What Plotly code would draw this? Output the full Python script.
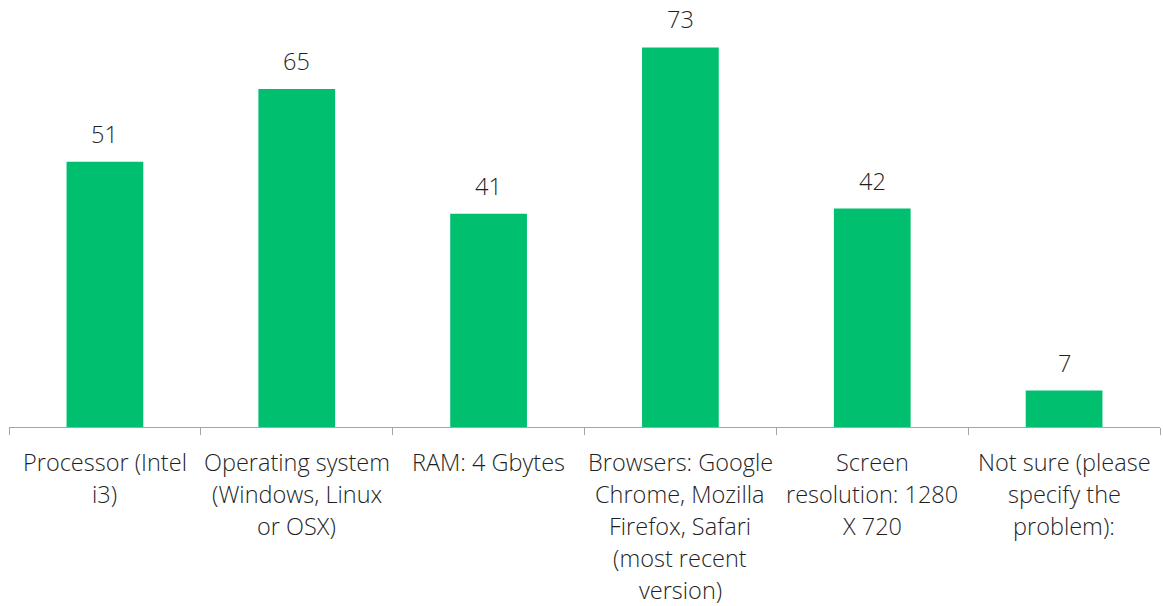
import plotly.graph_objects as go

categories = [
    "Processor (Intel<br>i3)",
    "Operating system<br>(Windows, Linux<br>or OSX)",
    "RAM: 4 Gbytes",
    "Browsers: Google<br>Chrome, Mozilla<br>Firefox, Safari<br>(most recent<br>version)",
    "Screen<br>resolution: 1280<br>X 720",
    "Not sure (please<br>specify the<br>problem):",
]
values = [51, 65, 41, 73, 42, 7]

GREEN = "#00BF6F"
FONT = "Open Sans"
TXT = "#1f1f1f"
FS = 23.5

fig = go.Figure()
fig.add_trace(go.Bar(
    x=categories, y=values,
    marker=dict(color=GREEN, line=dict(width=0)),
    hoverinfo="skip",
))

for c, v in zip(categories, values):
    fig.add_annotation(x=c, y=v, text=str(v), showarrow=False,
                       yanchor="middle", yshift=28,
                       font=dict(family=FONT, size=FS, color=TXT, weight=300))

# category labels, one annotation per line for Excel-like line spacing
for c in categories:
    for i, line in enumerate(c.split("<br>")):
        fig.add_annotation(x=c, y=0, text=line, showarrow=False,
                           yanchor="middle", yshift=-(35 + 32 * i),
                           font=dict(family=FONT, size=FS, color=TXT, weight=300))

fig.update_layout(
    width=1163, height=606,
    margin=dict(l=9, r=3, t=11, b=179),
    paper_bgcolor="white", plot_bgcolor="white",
    bargap=0.6,
    showlegend=False,
    font=dict(family=FONT, size=FS, color=TXT),
    xaxis=dict(
        type="category",
        showline=True, linecolor="#A6A6A6", linewidth=1,
        ticks="outside", tickson="boundaries", ticklen=7, tickcolor="#A6A6A6",
        showticklabels=False,
        showgrid=False, zeroline=False,
    ),
    yaxis=dict(range=[0, 80], visible=False, showgrid=False, zeroline=False),
)

fig.write_html("out.html", config={"displayModeBar": False})

with open("out.html", "r", encoding="utf-8") as f:
    html = f.read()
html = html.replace("<body>", '<body style="margin:0;padding:0;">', 1)
with open("out.html", "w", encoding="utf-8") as f:
    f.write(html)
